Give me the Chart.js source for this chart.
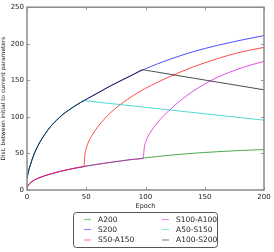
<!DOCTYPE html>
<html>
<head>
<meta charset="utf-8">
<script src="https://cdn.jsdelivr.net/npm/chart.js@4/dist/chart.umd.min.js"></script>
<style>
  html, body { margin: 0; padding: 0; background: #fff; }
  #wrap { width: 274px; height: 252px; }
</style>
</head>
<body>
<div id="wrap"><canvas id="chart" width="274" height="252"></canvas></div>
<script>
// epochs used for every series
const epochs = [0, 1, 2, 3, 5, 7, 10, 15, 20, 25,
  30, 35, 40, 45, 48, 49, 50, 52, 55, 60,
  65, 70, 80, 90, 98, 99, 100, 102, 105, 110,
  115, 120, 130, 140, 150, 160, 170, 180, 190, 200];

const A200 = [3, 6.5, 8.5, 10, 12.5, 14.3, 16.5, 19.5, 22, 24.2,
  26.2, 28, 29.7, 31.2, 32.1, 32.4, 32.7, 33.2, 34, 35.3,
  36.5, 37.7, 39.9, 42, 43.6, 43.8, 44, 44.4, 44.9, 45.8,
  46.6, 47.4, 48.9, 50.2, 51.3, 52.3, 53.2, 54, 54.7, 55.3];

const S200 = [15, 24, 30, 35, 45, 53, 63, 76, 87, 95.5,
  103, 109, 114.5, 119.5, 122.2, 123.1, 124, 125.8, 128.5, 133,
  137.5, 142, 150.2, 158.2, 164.4, 165.1, 165.8, 167.2, 169.2, 172.4,
  175.5, 178.5, 184, 189, 193.5, 197.5, 201.2, 204.7, 208, 211.2];

// switched runs share the first part with A200 / S200 (switch at ~epoch 48 or 98)
const i48 = epochs.indexOf(48);
const i98 = epochs.indexOf(98);

const S50A150 = A200.slice(0, i48 + 1).concat([50, 57, 66, 75, 87, 96.5, 105, 118.5, 129.5, 137.3,
  138.2, 139, 140.7, 143.2, 147.2, 151, 154.7, 161.7, 168.2, 174, 179.3, 184.2, 188.5, 192, 195]);

const S100A100 = A200.slice(0, i98 + 1).concat([58, 65, 73, 81, 92, 101, 109, 123, 135, 145,
  153.5, 160.5, 166.5, 171.5, 176]);

const A50S150 = S200.slice(0, i48 + 1).concat([122, 121.9, 121.5, 121, 120.1, 119.2, 118.3, 116.6, 114.8, 113.4,
  113.2, 113.1, 112.7, 112.2, 111.3, 110.4, 109.6, 107.8, 106, 104.3, 102.5, 100.8, 99, 97.3, 95.5]);

const A100S200 = S200.slice(0, i98 + 1).concat([164.1, 163.9, 163.3, 162.5, 161.2, 159.8, 158.5, 155.8, 153.1,
  150.4, 147.7, 145.1, 142.4, 139.7, 137]);

const seriesNames = ['A200', 'S200', 'S50-A150', 'S100-A100', 'A50-S150', 'A100-S200'];
const seriesValues = [A200, S200, S50A150, S100A100, A50S150, A100S200];
const seriesColors = ['rgba(0,128,0,0.7)', 'rgba(0,0,255,0.7)', 'rgba(255,0,0,0.7)',
  'rgba(220,0,220,0.7)', 'rgba(0,200,200,0.7)', 'rgba(0,0,0,0.7)'];

const xTicks = [0, 50, 100, 150, 200];
const yTicks = [0, 50, 100, 150, 200, 250];

const FONT = 'DejaVu Sans';
Chart.defaults.font.family = FONT;
Chart.defaults.color = '#222';

// cadre gris + petits traits vers l'intérieur (style matplotlib)
const frameTicks = {
  id: 'frameTicks',
  afterDatasetsDraw(chart) {
    const ctx = chart.ctx;
    const a = chart.chartArea;
    const xs = chart.scales.x, ys = chart.scales.y;
    ctx.save();
    ctx.strokeStyle = '#999';
    ctx.lineWidth = 1;
    xTicks.forEach(v => {
      const p = Math.round(xs.getPixelForValue(v)) + 0.5;
      ctx.beginPath();
      ctx.moveTo(p, a.bottom); ctx.lineTo(p, a.bottom - 3);
      ctx.moveTo(p, a.top); ctx.lineTo(p, a.top + 3);
      ctx.stroke();
    });
    yTicks.forEach(v => {
      const p = Math.round(ys.getPixelForValue(v)) + 0.5;
      ctx.beginPath();
      ctx.moveTo(a.left, p); ctx.lineTo(a.left + 3, p);
      ctx.moveTo(a.right, p); ctx.lineTo(a.right - 3, p);
      ctx.stroke();
    });
    ctx.lineWidth = 1.5;
    ctx.strokeStyle = '#8a8a8a';
    ctx.strokeRect(a.left, a.top, a.right - a.left, a.bottom - a.top);
    ctx.restore();
  }
};

// légende en deux colonnes dans une boîte sous le graphique
const boxLegend = {
  id: 'boxLegend',
  afterDraw(chart) {
    const ctx = chart.ctx;
    const sets = chart.data.datasets;
    const bx = 73.5, by = 212.5, bw = 144, bh = 35, r = 3;
    ctx.save();
    ctx.beginPath();
    ctx.roundRect(bx, by, bw, bh, r);
    ctx.fillStyle = '#fff';
    ctx.fill();
    ctx.strokeStyle = '#555';
    ctx.lineWidth = 1;
    ctx.stroke();
    ctx.font = '7.5px ' + FONT;
    ctx.textBaseline = 'middle';
    ctx.fillStyle = '#222';
    const colX = [84, 162];
    const rowY = [219.5, 229.5, 240];
    sets.forEach((ds, i) => {
      const c = Math.floor(i / 3), row = i % 3;
      const x = colX[c], y = rowY[row];
      ctx.strokeStyle = ds.borderColor.replace('0.7)', '0.45)');
      ctx.lineWidth = 1.2;
      ctx.beginPath();
      ctx.moveTo(x, y); ctx.lineTo(x + 7, y);
      ctx.stroke();
      ctx.fillText(ds.label, x + 14, y + 0.5);
    });
    ctx.restore();
  }
};

new Chart(document.getElementById('chart'), {
  type: 'line',
  data: {
    datasets: seriesNames.map((name, i) => ({
      label: name,
      data: epochs.map((e, k) => ({ x: e, y: seriesValues[i][k] })),
      borderColor: seriesColors[i],
      borderWidth: 1,
      pointRadius: 0,
      fill: false,
      cubicInterpolationMode: 'monotone',
      order: seriesNames.length - i
    }))
  },
  options: {
    responsive: false,
    animation: false,
    layout: { padding: { left: 0, right: 10, top: 6, bottom: 40 } },
    plugins: {
      legend: { display: false },
      tooltip: { enabled: false }
    },
    scales: {
      x: {
        type: 'linear',
        min: 0, max: 200,
        afterBuildTicks: s => { s.ticks = xTicks.map(v => ({ value: v })); },
        afterFit: s => { s.height = 22; },
        grid: { display: false, drawTicks: false },
        border: { display: false },
        ticks: { padding: 3, font: { size: 7 }, maxRotation: 0 },
        title: { display: true, text: 'Epoch', font: { size: 6.5 }, padding: { top: 0, bottom: 2 } }
      },
      y: {
        type: 'linear',
        min: 0, max: 250,
        afterBuildTicks: s => { s.ticks = yTicks.map(v => ({ value: v })); },
        afterFit: s => { s.width = 27; },
        grid: { display: false, drawTicks: false },
        border: { display: false },
        ticks: { padding: 3, font: { size: 7 } },
        title: { display: true, text: 'Dist. between initial to current parameters', font: { size: 5.8 }, padding: { top: 0, bottom: 1 } }
      }
    }
  },
  plugins: [frameTicks, boxLegend]
});
</script>
</body>
</html>
